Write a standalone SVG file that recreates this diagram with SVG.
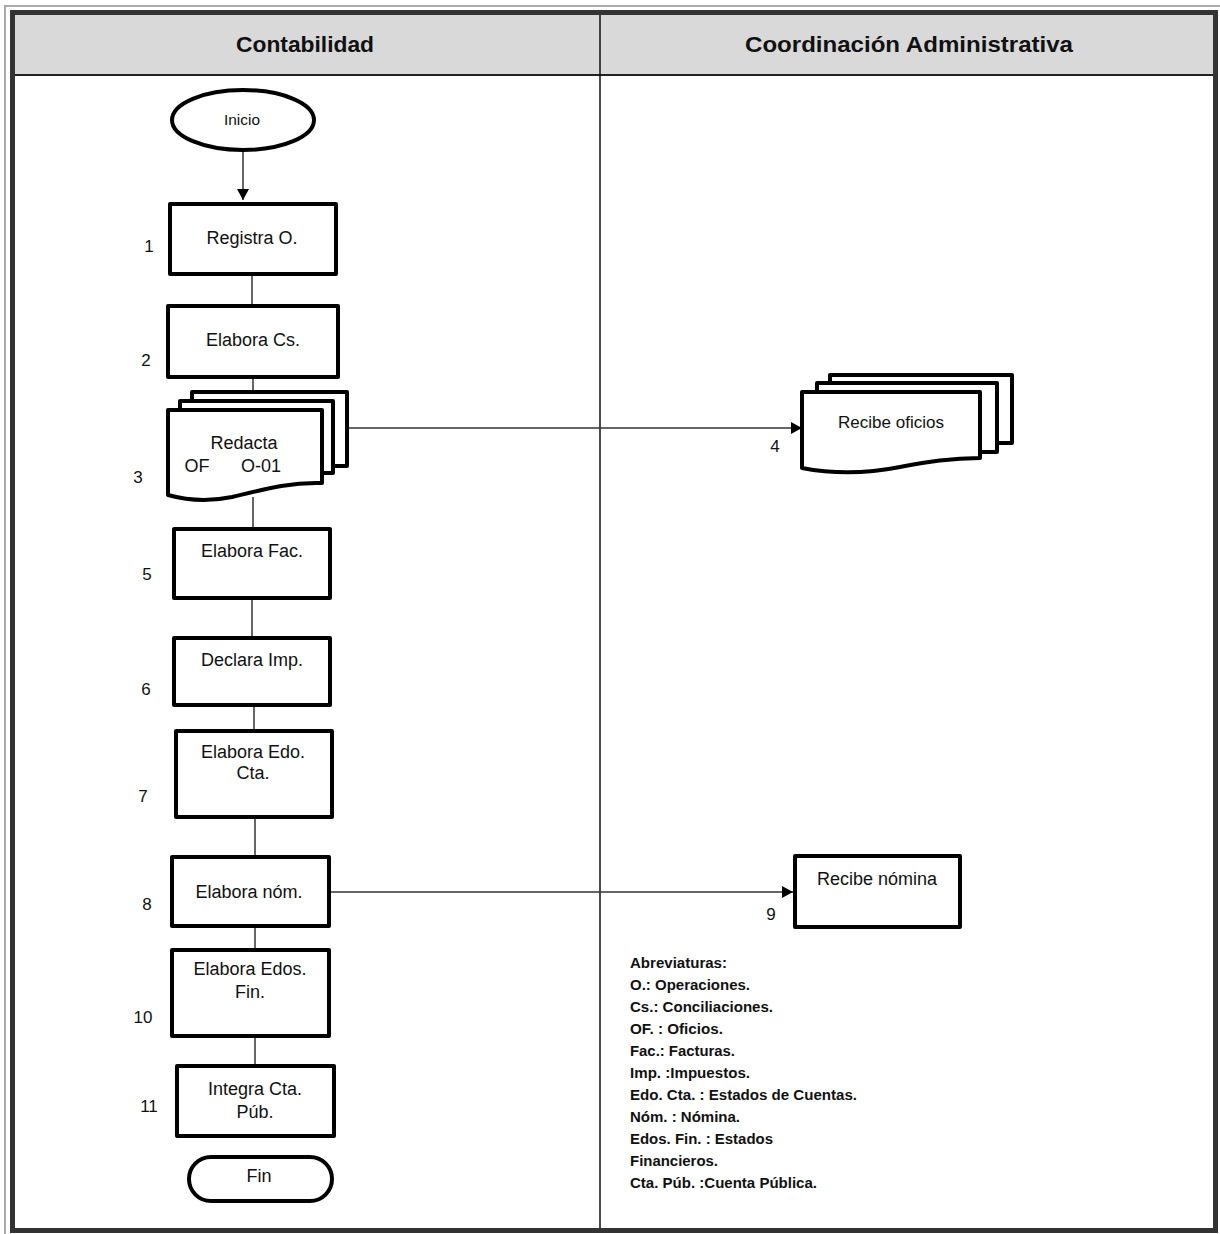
<svg xmlns="http://www.w3.org/2000/svg" width="1220" height="1234" viewBox="0 0 1220 1234">
<defs>
<style>
.node{fill:#fff;stroke:#000;stroke-width:4;stroke-linejoin:round}
.t{font-family:"Liberation Sans",Arial,sans-serif;font-size:18px;fill:#111;text-anchor:middle}
.n{font-family:"Liberation Sans",Arial,sans-serif;font-size:17px;fill:#111;text-anchor:middle}
.h{font-family:"Liberation Sans",Arial,sans-serif;font-size:22px;font-weight:bold;fill:#111;text-anchor:middle}
.ab{font-family:"Liberation Sans",Arial,sans-serif;font-size:14px;font-weight:bold;fill:#111}
.c{stroke:#333;stroke-width:1.5;fill:none}
</style>
<marker id="arr" markerUnits="userSpaceOnUse" markerWidth="12" markerHeight="12" refX="11" refY="6" orient="auto">
<path d="M0,0 L11,6 L0,12 z" fill="#000"/>
</marker>
</defs>
<rect width="1220" height="1234" fill="#fff"/>
<g id="frame">
<path d="M5,1234 V6 H1220" fill="none" stroke="#aaa" stroke-width="2"/>
<rect x="12.5" y="15" width="1203" height="60" fill="#d9d9d9"/>
<line x1="12" y1="75" x2="1216" y2="75" stroke="#222" stroke-width="2"/>
<line x1="600" y1="15" x2="600" y2="1228" stroke="#111" stroke-width="1.5"/>
<rect x="12.5" y="12.5" width="1203" height="1218" fill="none" stroke="#333" stroke-width="5"/>
<text class="h" x="305" y="52" textLength="138" lengthAdjust="spacingAndGlyphs">Contabilidad</text>
<text class="h" x="909" y="52" textLength="328" lengthAdjust="spacingAndGlyphs">Coordinación Administrativa</text>
</g>
<g id="connectors">
<line class="c" x1="243" y1="152" x2="243" y2="200" marker-end="url(#arr)"/>
<line class="c" x1="252" y1="276" x2="252" y2="304"/>
<line class="c" x1="253" y1="379" x2="253" y2="392"/>
<line class="c" x1="253" y1="497" x2="253" y2="527"/>
<line class="c" x1="252" y1="600" x2="252" y2="636"/>
<line class="c" x1="254" y1="707" x2="254" y2="729"/>
<line class="c" x1="255" y1="819" x2="255" y2="855"/>
<line class="c" x1="255" y1="928" x2="255" y2="948"/>
<line class="c" x1="255" y1="1038" x2="255" y2="1064"/>
<line class="c" x1="347" y1="428" x2="802" y2="428" marker-end="url(#arr)"/>
<line class="c" x1="331" y1="892" x2="793" y2="892" marker-end="url(#arr)"/>
</g>
<g id="inicio">
<ellipse class="node" cx="243" cy="120" rx="71" ry="30"/>
<text class="t" x="242" y="125" style="font-size:15px" textLength="36" lengthAdjust="spacingAndGlyphs">Inicio</text>
</g>
<g id="n1">
<rect class="node" x="170" y="204" width="166" height="70"/>
<text class="t" x="252" y="244">Registra O.</text>
<text class="n" x="149" y="252">1</text>
</g>
<g id="n2">
<rect class="node" x="168" y="306" width="170" height="71"/>
<text class="t" x="253" y="346">Elabora Cs.</text>
<text class="n" x="146" y="366">2</text>
</g>
<g id="n3">
<rect class="node" x="192" y="392" width="155" height="74"/>
<rect class="node" x="180" y="401" width="153" height="72"/>
<path class="node" d="M168,410 H322 V483 C290,482 265,489 232,497 C208,502 186,500 168,495 Z"/>
<text class="t" x="244" y="449">Redacta</text>
<text class="t" x="197" y="472">OF</text>
<text class="t" x="261" y="472">O-01</text>
<text class="n" x="138" y="483">3</text>
</g>
<g id="n4">
<rect class="node" x="830" y="375" width="182" height="68"/>
<rect class="node" x="817" y="383" width="180" height="69"/>
<path class="node" d="M802,392 H980 V458 C950,458 928,462 900,467 C870,473 838,475 802,468 Z"/>
<text class="t" x="891" y="428" style="font-size:17px" textLength="106" lengthAdjust="spacingAndGlyphs">Recibe oficios</text>
<text class="n" x="775" y="452">4</text>
</g>
<g id="n5">
<rect class="node" x="174" y="529" width="156" height="69"/>
<text class="t" x="252" y="557">Elabora Fac.</text>
<text class="n" x="147" y="580">5</text>
</g>
<g id="n6">
<rect class="node" x="174" y="638" width="156" height="67"/>
<text class="t" x="252" y="666">Declara Imp.</text>
<text class="n" x="146" y="695">6</text>
</g>
<g id="n7">
<rect class="node" x="176" y="731" width="156" height="86"/>
<text class="t" x="253" y="758">Elabora Edo.</text>
<text class="t" x="253" y="779">Cta.</text>
<text class="n" x="143" y="802">7</text>
</g>
<g id="n8">
<rect class="node" x="172" y="857" width="157" height="69"/>
<text class="t" x="249" y="898">Elabora nóm.</text>
<text class="n" x="147" y="910">8</text>
</g>
<g id="n9">
<rect class="node" x="795" y="856" width="165" height="71"/>
<text class="t" x="877" y="885">Recibe nómina</text>
<text class="n" x="771" y="920">9</text>
</g>
<g id="n10">
<rect class="node" x="172" y="950" width="157" height="86"/>
<text class="t" x="250" y="975">Elabora Edos.</text>
<text class="t" x="250" y="998">Fin.</text>
<text class="n" x="143" y="1023">10</text>
</g>
<g id="n11">
<rect class="node" x="177" y="1066" width="157" height="70"/>
<text class="t" x="255" y="1095">Integra Cta.</text>
<text class="t" x="255" y="1118">Púb.</text>
<text class="n" x="149" y="1112">11</text>
</g>
<g id="fin">
<rect class="node" x="189" y="1157" width="143" height="44" rx="22"/>
<text class="t" x="259" y="1182">Fin</text>
</g>
<g id="abreviaturas">
<text class="ab" x="630" y="968" textLength="97" lengthAdjust="spacingAndGlyphs">Abreviaturas:</text>
<text class="ab" x="630" y="990" textLength="120" lengthAdjust="spacingAndGlyphs">O.: Operaciones.</text>
<text class="ab" x="630" y="1012" textLength="143" lengthAdjust="spacingAndGlyphs">Cs.: Conciliaciones.</text>
<text class="ab" x="630" y="1034" textLength="93" lengthAdjust="spacingAndGlyphs">OF. : Oficios.</text>
<text class="ab" x="630" y="1056" textLength="105" lengthAdjust="spacingAndGlyphs">Fac.: Facturas.</text>
<text class="ab" x="630" y="1078" textLength="120" lengthAdjust="spacingAndGlyphs">Imp. :Impuestos.</text>
<text class="ab" x="630" y="1100" textLength="227" lengthAdjust="spacingAndGlyphs">Edo. Cta. : Estados de Cuentas.</text>
<text class="ab" x="630" y="1122" textLength="110" lengthAdjust="spacingAndGlyphs">Nóm. : Nómina.</text>
<text class="ab" x="630" y="1144" textLength="143" lengthAdjust="spacingAndGlyphs">Edos. Fin. : Estados</text>
<text class="ab" x="630" y="1166" textLength="88" lengthAdjust="spacingAndGlyphs">Financieros.</text>
<text class="ab" x="630" y="1188" textLength="187" lengthAdjust="spacingAndGlyphs">Cta. Púb. :Cuenta Pública.</text>
</g>
</svg>
